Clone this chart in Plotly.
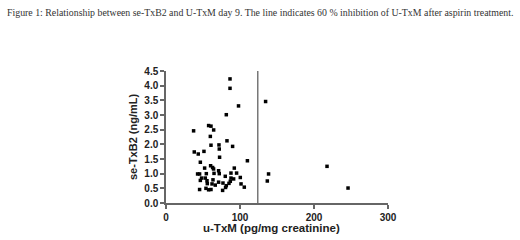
import plotly.graph_objects as go

# Data
utxm = [86.5, 86.5, 98, 134.6, 81.5, 57.6, 60.8, 64.4, 37.3, 59.9, 82.4, 60.8, 71.6, 90, 72,
        38.2, 51.3, 43.6, 72.4, 110, 46.4, 60.3, 63, 52.2, 64.3, 92.3, 71.1, 42.7, 45.4, 54.5,
        64.9, 72, 87.8, 95.4, 80.1, 100.4, 48.1, 53.1, 87.8, 46.4, 55.4, 63.5, 91.4, 86.9, 71.1,
        77, 62.2, 85.1, 55.8, 66.6, 81.5, 101.4, 105.8, 45.4, 54, 57.6, 60.8, 76.5, 80.5, 138.6,
        136.9, 217.6, 246]
setxb2 = [4.23, 3.91, 3.31, 3.46, 3.01, 2.64, 2.62, 2.49, 2.46, 2.27, 2.12, 1.97, 1.98, 1.93, 1.84,
          1.74, 1.76, 1.67, 1.56, 1.44, 1.39, 1.27, 1.21, 1.19, 1.16, 1.19, 1.10, 0.99, 0.99, 1.0,
          1.01, 1.0, 1.02, 1.02, 0.91, 0.87, 0.85, 0.85, 0.85, 0.77, 0.76, 0.79, 0.82, 0.74, 0.71,
          0.68, 0.65, 0.67, 0.66, 0.61, 0.59, 0.65, 0.54, 0.46, 0.50, 0.45, 0.46, 0.43, 0.53, 0.99,
          0.75, 1.25, 0.51]
line_x = [124, 124]
line_y = [0, 4.55]
x_ticks = [0, 100, 200, 300]
y_ticks = [0.0, 0.5, 1.0, 1.5, 2.0, 2.5, 3.0, 3.5, 4.0, 4.5]

title = ("Figure 1: Relationship between se-TxB2 and U-TxM day 9. The line indicates 60 % "
         "inhibition of U-TxM after aspirin treatment.")

fig = go.Figure()
fig.add_trace(go.Scatter(x=line_x, y=line_y, mode="lines",
                         line=dict(color="#777777", width=1.5), cliponaxis=False,
                         hoverinfo="skip", showlegend=False))
fig.add_trace(go.Scatter(x=utxm, y=setxb2, mode="markers",
                         marker=dict(symbol="square", size=3.5, color="black"),
                         cliponaxis=False, showlegend=False))

sans = "Liberation Sans, Arial"
axis_font = dict(family=sans, size=10, color="#222222", weight="bold")
fig.update_layout(
    width=520, height=240,
    margin=dict(l=166, r=132, t=71, b=37),
    paper_bgcolor="white", plot_bgcolor="white",
    title=dict(text=title, x=7 / 520, xanchor="left", xref="container",
               y=1 - 13 / 240, yanchor="middle", yref="container",
               font=dict(family="Liberation Serif, Times New Roman", size=9.85, color="#333333")),
    xaxis=dict(range=[0, 300], tickvals=x_ticks, ticktext=[str(v) for v in x_ticks],
               showgrid=False, zeroline=False, showline=True, linecolor="#666666", linewidth=1.5,
               ticks="outside", ticklen=4, tickcolor="#666666", tickwidth=1.5, tickfont=axis_font),
    yaxis=dict(range=[0, 4.5], tickvals=y_ticks, ticktext=[f"{v:.1f}" for v in y_ticks],
               showgrid=False, zeroline=False, showline=True, linecolor="#666666", linewidth=1.5,
               ticks="outside", ticklen=4, tickcolor="#666666", tickwidth=1.5, tickfont=axis_font),
    annotations=[
        dict(text="u-TxM (pg/mg creatinine)", xref="paper", yref="paper",
             x=(271.5 - 166) / 222, y=(203.3 - 228) / 132, xanchor="center", yanchor="middle",
             showarrow=False, font=dict(family=sans, size=11.5, color="#222222", weight="bold")),
        dict(text="se-TxB2 (ng/mL)", xref="paper", yref="paper", textangle=-90,
             x=(133 - 166) / 222, y=0.5, xanchor="center", yanchor="middle",
             showarrow=False, font=dict(family=sans, size=11, color="#222222", weight="bold")),
    ],
)
fig.write_html("out.html", config={"displayModeBar": False},
               post_script="document.body.style.margin='0';document.body.style.overflow='hidden';")
